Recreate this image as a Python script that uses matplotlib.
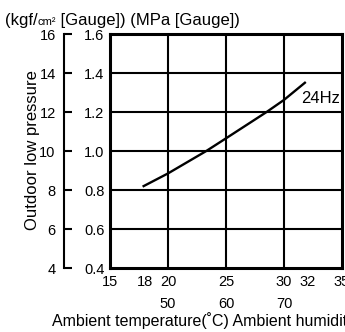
import matplotlib.pyplot as plt

plt.rcParams['font.family'] = ['Liberation Sans', 'DejaVu Sans']

# 24Hz curve, ambient temperature (C) vs outdoor low pressure (MPa)
temp = [17.9, 20.0, 23.3, 25.0, 28.5, 30.0, 31.8]
press_mpa = [0.82, 0.885, 1.0, 1.065, 1.2, 1.262, 1.35]

temp_ticks = [15, 18, 20, 25, 30, 32, 35]
humid_pos = [20, 25, 30]
humid_labels = ['50', '60', '70']
mpa_ticks = [0.4, 0.6, 0.8, 1.0, 1.2, 1.4, 1.6]
kgf_ticks = [4, 6, 8, 10, 12, 14, 16]
grid_x = [20, 25, 30]
grid_y = [0.6, 0.8, 1.0, 1.2, 1.4]

TICK_FS = 10.5
LABEL_FS = 12

fig = plt.figure(figsize=(3.45, 3.32), dpi=100)
W, H = 345, 332
ax = fig.add_axes([110 / W, (H - 268) / H, (342 - 110) / W, (268 - 34) / H])

ax.set_xlim(15, 35)
ax.set_ylim(0.4, 1.6)

for gx in grid_x:
    ax.axvline(gx, color='black', lw=1.5, zorder=1)
for gy in grid_y:
    ax.axhline(gy, color='black', lw=1.5, zorder=1)

ax.plot(temp, press_mpa, color='black', lw=1.7, zorder=3)
ax.text(31.5, 1.267, '24Hz', fontsize=LABEL_FS, va='center', ha='left')

for s in ax.spines.values():
    s.set_linewidth(2.2)

ax.set_yticks(mpa_ticks)
ax.set_yticklabels([f'{v:.1f}' for v in mpa_ticks], fontsize=TICK_FS)
ax.set_xticks(temp_ticks)
ax.set_xticklabels([str(t) for t in temp_ticks], fontsize=TICK_FS)
ax.tick_params(axis='both', length=0)
ax.tick_params(axis='y', pad=4)
ax.tick_params(axis='x', pad=5)

# humidity row under the temperature labels
hum = ax.secondary_xaxis('bottom')
hum.set_xticks(humid_pos)
hum.set_xticklabels(humid_labels, fontsize=TICK_FS)
hum.tick_params(length=0, pad=21)
hum.spines['bottom'].set_visible(False)

# kgf/cm2 scale on the far left
kgf = ax.secondary_yaxis(-(110 - 64) / 232, functions=(lambda v: v * 10, lambda v: v / 10))
kgf.set_yticks(kgf_ticks)
kgf.set_yticklabels([str(v) for v in kgf_ticks], fontsize=TICK_FS)
kgf.tick_params(direction='in', length=6, width=1.5, pad=6)
kgf.spines['left'].set_linewidth(1.5)

# unit line, with a small "cm²" between the two larger pieces
t1 = fig.text(5 / W, 1 - 28 / H, '(kgf/', fontsize=LABEL_FS, ha='left', va='bottom')
t2 = ax.annotate('cm²', xy=(1, 0), xycoords=t1, xytext=(0, 1), textcoords='offset points',
                 fontsize=8, ha='left', va='bottom', annotation_clip=False)
ax.annotate(' [Gauge]) (MPa [Gauge])', xy=(1, 0), xycoords=t2, xytext=(0, -1),
            textcoords='offset points', fontsize=LABEL_FS, ha='left', va='bottom',
            annotation_clip=False)

fig.text(33 / W, 1 - 150 / H, 'Outdoor low pressure', fontsize=LABEL_FS,
         rotation=90, ha='center', va='center')
fig.text(52 / W, 1 - 321 / H, 'Ambient temperature(˚C) Ambient humidity(%RH)',
         fontsize=11.5, ha='left', va='center')

fig.savefig('out.png', dpi=100)
